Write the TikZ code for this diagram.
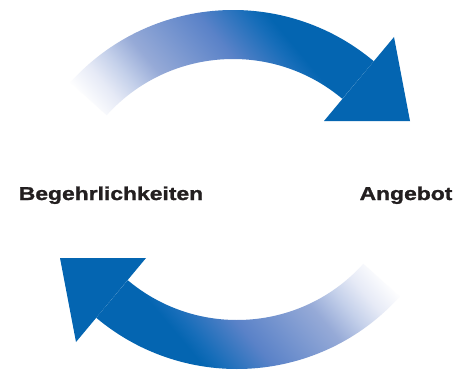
\documentclass[tikz,border=0pt]{standalone}
\usepackage{fontspec}
\newfontfamily\labfont[FakeStretch=1.23,FakeBold=1.3]{Liberation Sans}
\definecolor{arrowblue}{RGB}{4,101,177}
\definecolor{fadeA}{RGB}{230,234,246}
\definecolor{fadeB}{RGB}{196,208,234}
\definecolor{fadeC}{RGB}{150,170,215}
\definecolor{fadeD}{RGB}{90,130,200}
\definecolor{fadeE}{RGB}{22,109,185}
\definecolor{labelink}{RGB}{35,31,32}
\pgfdeclarehorizontalshading{arrowfade}{100bp}{%
  color(0bp)=(white);
  color(19bp)=(white);
  color(25bp)=(fadeA);
  color(30bp)=(fadeB);
  color(36bp)=(fadeC);
  color(51bp)=(fadeD);
  color(60bp)=(fadeE);
  color(63bp)=(arrowblue);
  color(100bp)=(arrowblue)}
\tikzset{
  labeltext/.style={font=\labfont\bfseries\fontsize{18.6}{22}\selectfont, text=labelink, anchor=base, inner sep=0pt},
  headfill/.style={fill=arrowblue}
}
\begin{document}
\begin{tikzpicture}[x=1pt,y=1pt]
\useasboundingbox (0,0) rectangle (470,373);
\fill[white] (0,0) rectangle (470,373);
% top arrow
\coordinate (ctop) at (233,144);
\shade[shading=arrowfade, shading angle=40]
  ([shift={(138:219pt)}]ctop) arc[start angle=138, end angle=50, radius=219pt]
  -- ([shift={(50:170pt)}]ctop) arc[start angle=50, end angle=138, radius=170pt] -- cycle;
\coordinate (ttip) at (410,252);
\coordinate (ttop) at (394,336);
\coordinate (tleft) at (324,252);
\fill[headfill] (ttop) -- (ttip) -- (tleft) -- cycle;
% bottom arrow
\coordinate (cbot) at (237,223);
\shade[shading=arrowfade, shading angle=220]
  ([shift={(318:219pt)}]cbot) arc[start angle=318, end angle=230, radius=219pt]
  -- ([shift={(230:170pt)}]cbot) arc[start angle=230, end angle=318, radius=170pt] -- cycle;
\coordinate (btip) at (60,115);
\coordinate (bbot) at (76,31);
\coordinate (bright) at (146,115);
\fill[headfill] (bbot) -- (btip) -- (bright) -- cycle;
% labels
\node[labeltext] (wish) at (111,173) {Begehrlichkeiten};
\node[labeltext] (offer) at (406,173) {Angebot};
\end{tikzpicture}
\end{document}
